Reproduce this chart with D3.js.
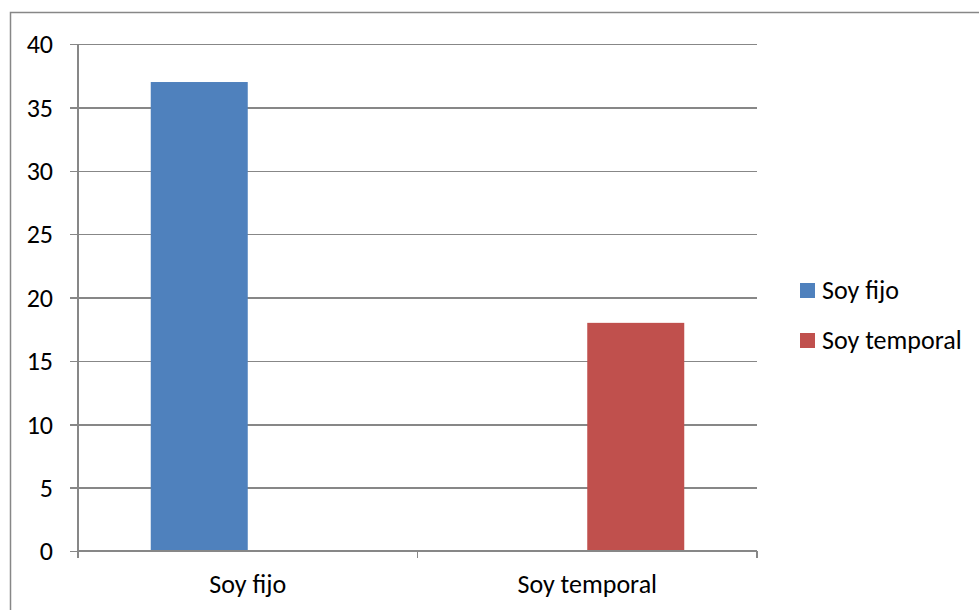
<!DOCTYPE html>
<html>
<head>
<meta charset="utf-8">
<script src="https://cdn.jsdelivr.net/npm/d3@7"></script>
<style>
  html, body { margin: 0; padding: 0; background: #fff; }
  svg { display: block; }
  text { font-family: Carlito, "Open Sans", "Liberation Sans", sans-serif; fill: #000; }
</style>
</head>
<body>
<svg id="chart" width="979" height="610"></svg>
<script>
// Categories, series and values
const categories = ["Soy fijo", "Soy temporal"];
const seriesNames = ["Soy fijo", "Soy temporal"];
const seriesColors = ["#4F81BD", "#C0504D"];
// values[s][c] : series s in category c
const soyFijo = [37, 0];
const soyTemporal = [0, 18];
const values = [soyFijo, soyTemporal];
const yTicks = [0, 5, 10, 15, 20, 25, 30, 35, 40];

const svg = d3.select("#chart");
const W = 979, H = 610;
const FS = 26;

// Chart frame
svg.append("rect")
  .attr("x", 10.5).attr("y", 12.5)
  .attr("width", W).attr("height", H)
  .attr("fill", "#fff").attr("stroke", "#878787").attr("stroke-width", 1.5);

const plot = { left: 78, right: 757, top: 44, bottom: 551 };

const x = d3.scaleBand().domain(categories).range([plot.left, plot.right]).paddingInner(0).paddingOuter(0);
const xs = d3.scaleBand().domain(seriesNames).range([0, x.bandwidth()]).paddingInner(0).paddingOuter(0.75);
const y = d3.scaleLinear().domain([0, 40]).range([plot.bottom, plot.top]);

const gridColor = "#878787";

// Horizontal gridlines with tick marks on the left
const yAxis = d3.axisLeft(y).tickValues(yTicks).tickSize(plot.right - plot.left + 8).tickFormat(d3.format("d"));
const gy = svg.append("g").attr("transform", `translate(${plot.right},0)`).call(yAxis);
gy.select(".domain").remove();
gy.selectAll(".tick line").attr("stroke", gridColor).attr("stroke-width", 1.5).attr("shape-rendering", "crispEdges");
gy.selectAll(".tick text")
  .attr("font-size", FS).attr("fill", "#000")
  .attr("x", 53 - plot.right).attr("dy", "0.34em");

// Bars
categories.forEach((c, ci) => {
  seriesNames.forEach((s, si) => {
    const v = values[si][ci];
    if (v <= 0) return;
    svg.append("rect")
      .attr("x", x(c) + xs(s))
      .attr("width", xs.bandwidth())
      .attr("y", y(v))
      .attr("height", y(0) - y(v))
      .attr("fill", seriesColors[si]);
  });
});

// Value axis line
svg.append("line")
  .attr("x1", plot.left).attr("x2", plot.left)
  .attr("y1", plot.top).attr("y2", plot.bottom)
  .attr("stroke", gridColor).attr("stroke-width", 1.5).attr("shape-rendering", "crispEdges");

// Category axis with boundary ticks
svg.append("line")
  .attr("x1", plot.left).attr("x2", plot.right)
  .attr("y1", plot.bottom).attr("y2", plot.bottom)
  .attr("stroke", gridColor).attr("stroke-width", 1.5).attr("shape-rendering", "crispEdges");
const boundaries = [plot.left].concat(categories.map(c => x(c) + x.bandwidth()));
svg.selectAll(".xtick").data(boundaries).enter().append("line")
  .attr("x1", d => d).attr("x2", d => d)
  .attr("y1", plot.bottom).attr("y2", plot.bottom + 7)
  .attr("stroke", gridColor).attr("stroke-width", 1.5).attr("shape-rendering", "crispEdges");
svg.selectAll(".xlabel").data(categories).enter().append("text")
  .attr("x", d => x(d) + x.bandwidth() / 2)
  .attr("y", 593)
  .attr("text-anchor", "middle")
  .attr("font-size", FS)
  .text(d => d);

// Legend
const legend = svg.append("g");
seriesNames.forEach((s, i) => {
  const ly = 291 + i * 50;
  legend.append("rect")
    .attr("x", 800).attr("y", ly - 8)
    .attr("width", 15).attr("height", 15)
    .attr("fill", seriesColors[i]);
  legend.append("text")
    .attr("x", 822).attr("y", ly + 8)
    .attr("font-size", FS)
    .text(s);
});
</script>
</body>
</html>
